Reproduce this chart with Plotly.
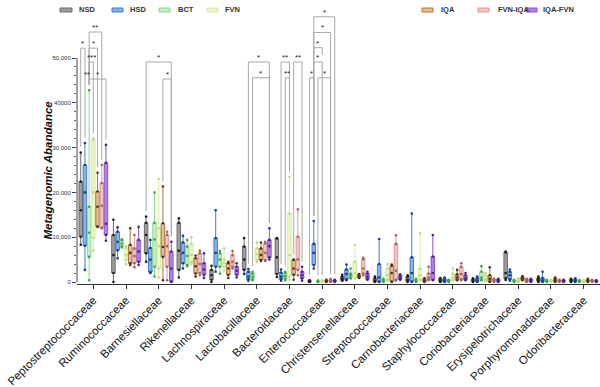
import plotly.graph_objects as go

categories = ["Peptostreptococcaceae", "Ruminococcaceae", "Barnesiellaceae", "Rikenellaceae",
              "Lachnospiraceae", "Lactobacillaceae", "Bacteroidaceae", "Enterococcaceae",
              "Christensenellaceae", "Streptococcaceae", "Carnobacteriaceae", "Staphylococcaceae",
              "Coriobacteriaceae", "Erysipelotrichaceae", "Porphyromonadaceae", "Odoribacteraceae"]
groups = ["NSD", "HSD", "BCT", "FVN", "IQA", "FVN-IQA", "IQA-FVN"]

# five-number summaries per family: [min, q1, median, q3, max]
NSD = [[8300, 10100, 16000, 22400, 28900], [0, 2000, 6000, 10500, 13900], [4500, 6400, 10500, 13200, 14600],
       [1000, 2700, 7000, 13200, 14200], [0, 500, 1500, 2700, 3600], [1800, 2700, 5000, 7900, 9800],
       [1100, 1800, 5500, 9700, 9800], [0, 50, 150, 300, 400], [300, 400, 700, 1200, 1600],
       [0, 100, 300, 900, 1200], [0, 200, 500, 1200, 1500], [0, 100, 300, 700, 900],
       [0, 100, 300, 600, 800], [450, 800, 2000, 6600, 6800], [0, 200, 500, 900, 1200],
       [0, 100, 300, 600, 700]]
HSD = [[2700, 8100, 20000, 26100, 31000], [5300, 7100, 9000, 11200, 12200], [2000, 2200, 5000, 7600, 9400],
       [3000, 4200, 6500, 8800, 10300], [2300, 3400, 6500, 9800, 16000], [300, 600, 1200, 2300, 2900],
       [300, 600, 1200, 2100, 2800], [3000, 3800, 6500, 8500, 13600], [400, 600, 1800, 2800, 3900],
       [0, 100, 1000, 4000, 9600], [0, 100, 2000, 5500, 15300], [0, 100, 300, 700, 1000],
       [0, 100, 400, 900, 1200], [300, 600, 1500, 2300, 2800], [0, 100, 400, 900, 2300],
       [0, 100, 300, 600, 800]]
BCT = [[400, 5600, 11000, 16800, 42800], [7700, 7900, 8600, 9400, 9500], [1200, 3400, 9500, 13200, 20000],
       [3500, 3800, 5800, 7900, 9400], [1900, 3400, 5000, 6400, 6900], [400, 600, 1200, 1900, 2300],
       [400, 700, 1300, 2000, 2300], [0, 50, 100, 200, 300], [800, 1000, 1500, 1900, 3000],
       [0, 100, 200, 500, 700], [0, 100, 200, 500, 700], [0, 50, 200, 400, 500],
       [400, 500, 1000, 2300, 3500], [0, 100, 200, 400, 500], [0, 100, 200, 400, 500],
       [0, 100, 200, 300, 400]]
FVN = [[7000, 9800, 20000, 31700, 32000], [4000, 4900, 6000, 7600, 8000], [1000, 3000, 8000, 12000, 23000],
       [4000, 4500, 6000, 8500, 10000], [2500, 3400, 4200, 5000, 7500], [4500, 4900, 6200, 7500, 8800],
       [500, 1200, 6000, 15300, 23500], [0, 50, 150, 300, 400], [800, 900, 2000, 4500, 8300],
       [300, 500, 1500, 3000, 4000], [400, 500, 1500, 3000, 10900], [400, 500, 1000, 1800, 3000],
       [200, 300, 700, 1500, 2000], [0, 100, 300, 600, 800], [0, 100, 200, 300, 400],
       [0, 100, 200, 300, 400]]
IQA = [[12300, 12400, 16800, 20200, 24400], [3800, 4200, 6500, 8300, 12000], [400, 5600, 7800, 13100, 21300],
       [1200, 1900, 3500, 5300, 5900], [900, 1600, 3000, 4200, 4500], [4700, 4900, 6000, 7500, 8800],
       [500, 1600, 3000, 4900, 5000], [0, 100, 200, 300, 500], [900, 1000, 1200, 1700, 1800],
       [0, 100, 2000, 3600, 3900], [0, 100, 300, 600, 900], [400, 500, 1000, 1700, 2700],
       [0, 100, 700, 1500, 3300], [400, 500, 800, 1100, 1300], [0, 100, 400, 800, 1000],
       [0, 100, 300, 500, 700]]
FVN_IQA = [[12000, 12100, 17000, 22100, 26100], [3300, 4200, 5800, 7500, 10500], [400, 3400, 8000, 10500, 11200],
           [1500, 2000, 4000, 6400, 7000], [3000, 3400, 4500, 6000, 6900], [4700, 4900, 6500, 8600, 9000],
           [1500, 2700, 5000, 10100, 16200], [0, 100, 300, 500, 700], [1500, 1900, 3000, 5100, 5400],
           [300, 500, 2500, 8500, 10400], [400, 600, 1000, 1900, 3400], [400, 600, 1800, 3400, 4200],
           [0, 100, 300, 600, 700], [0, 100, 300, 600, 700], [0, 100, 200, 400, 500],
           [0, 100, 200, 400, 500]]
IQA_FVN = [[9200, 10500, 13000, 26600, 30600], [3800, 4500, 6800, 9400, 12300], [0, 100, 3000, 6800, 9000],
           [900, 1600, 2800, 4200, 6400], [1000, 1600, 2500, 3400, 4200], [5000, 5500, 8000, 9400, 12000],
           [300, 800, 1500, 2300, 3400], [0, 100, 200, 400, 500], [500, 600, 1200, 1900, 2300],
           [500, 600, 1000, 1500, 1700], [400, 500, 2000, 5700, 10500], [400, 500, 900, 1500, 2000],
           [0, 100, 300, 600, 700], [0, 100, 300, 600, 700], [0, 100, 200, 400, 500],
           [0, 100, 200, 300, 400]]
series = [NSD, HSD, BCT, FVN, IQA, FVN_IQA, IQA_FVN]

y_tick_vals = [0, 10000, 20000, 30000, 40000, 50000]
y_tick_text = ["0", "10,000", "20,000", "30,000", "40000", "50,000"]
y_minor_vals = list(range(0, 50001, 2000))

# significance brackets: (family index, group a, group b, bar height, label, draw bar)
brackets = [
    (0, 2, 5, 55800, "**", True),
    (0, 0, 1, 52200, "*", True),
    (0, 2, 4, 52200, "*", True),
    (0, 2, 3, 49100, "***", True),
    (0, 1, 2, 45300, "**", False),
    (0, 2, 6, 45300, "*", True),
    (2, 0, 6, 49100, "*", True),
    (2, 4, 6, 45300, "*", True),
    (5, 1, 6, 49100, "*", True),
    (5, 2, 6, 45600, "*", True),
    (6, 1, 3, 49100, "**", True),
    (6, 4, 6, 49100, "**", True),
    (6, 2, 3, 45600, "**", True),
    (7, 0, 1, 45600, "*", True),
    (7, 2, 5, 45600, "*", True),
    (7, 1, 3, 49100, "*", True),
    (7, 1, 3, 52300, "*", "short"),
    (7, 1, 5, 55700, "*", True),
    (7, 1, 6, 59200, "*", True),
]

fills = ["rgba(125,125,125,0.75)", "rgba(95,155,225,0.75)", "rgba(150,230,155,0.6)",
         "rgba(228,243,175,0.7)", "rgba(220,170,115,0.75)", "rgba(238,175,170,0.75)",
         "rgba(165,105,235,0.85)"]
edges = ["#6a6a6a", "#3f7cc8", "#8cd690", "#d8e9a0", "#a8753f", "#dc9a92", "#8a52d8"]
dots = ["#1e1e1e", "#1e3c8c", "#3fa54a", "#c5d88a", "#4e3216", "#a0645c", "#47277a"]

FONT = "Liberation Sans, Arial, sans-serif"
W, H = 600, 387
ML, MR, MT, MB = 77, 0, 5, 103
PW, PH = W - ML - MR, H - MT - MB

def px(x):
    return (x - ML) / PW

def py(y):
    return (H - MB - y) / PH

fig = go.Figure()
for gi, (name, data) in enumerate(zip(groups, series)):
    fig.add_trace(go.Box(
        x=categories,
        lowerfence=[r[0] for r in data],
        q1=[r[1] for r in data],
        median=[r[2] for r in data],
        q3=[r[3] for r in data],
        upperfence=[r[4] for r in data],
        y=[list(r) for r in data],
        boxpoints="all", jitter=0, pointpos=0,
        fillcolor=fills[gi], line=dict(color=edges[gi], width=1),
        marker=dict(color=dots[gi], size=2.6),
        whiskerwidth=0, name=name, showlegend=False, hoverinfo="skip",
    ))

BOXGAP = 0.1
slot = (1 - BOXGAP) / len(groups)

def gx(cat, g):
    return cat + (g - (len(groups) - 1) / 2) * slot

shapes = []
annos = []
bcol = "#a8a8a8"
for cat, ga, gb, yb, lab, bar in brackets:
    xa, xb = gx(cat, ga), gx(cat, gb)
    if bar:
        shapes.append(dict(type="line", xref="x", yref="y", x0=xa, x1=xb, y0=yb, y1=yb,
                           line=dict(color=bcol, width=1)))
        for g, xx in ((ga, xa), (gb, xb)):
            bottom = yb - 1600 if bar == "short" else series[g][cat][4] + 1200
            shapes.append(dict(type="line", xref="x", yref="y", x0=xx, x1=xx, y0=yb, y1=bottom,
                               line=dict(color=bcol, width=1)))
    annos.append(dict(x=(xa + xb) / 2, y=yb, xref="x", yref="y", text=lab, showarrow=False,
                      yanchor="bottom", yshift=-2, font=dict(family=FONT, size=8, color="#222")))

# y axis line from 0 to 50,000
shapes.append(dict(type="line", xref="paper", yref="y", x0=0, x1=0, y0=0, y1=50000,
                   line=dict(color="#444", width=1)))

# legend
legend_items = [(60, 72, 77), (112, 123, 128), (159, 170, 176), (207, 218, 223),
                (422, 433, 439), (478, 489, 496), (526, 537, 541)]
for gi, (s0, s1, tx) in enumerate(legend_items):
    shapes.append(dict(type="rect", xref="paper", yref="paper", x0=px(s0), x1=px(s1),
                       y0=py(12), y1=py(8), fillcolor=fills[gi], line=dict(color=edges[gi], width=1)))
    annos.append(dict(x=px(tx), y=py(10), xref="paper", yref="paper", text="<b>%s</b>" % groups[gi],
                      showarrow=False, xanchor="left", yanchor="middle",
                      font=dict(family=FONT, size=7.5, color="#333")))

annos.append(dict(x=px(47.5), y=25000, xref="paper", yref="y", text="<b><i>Metagenomic Abandance</i></b>",
                  showarrow=False, textangle=-90, xanchor="center", yanchor="middle",
                  font=dict(family=FONT, size=11.5, color="#111")))

fig.update_layout(
    width=W, height=H, autosize=False,
    margin=dict(l=ML, r=MR, t=MT, b=MB, autoexpand=False),
    paper_bgcolor="white", plot_bgcolor="white",
    boxmode="group", boxgap=BOXGAP, boxgroupgap=0.17,
    shapes=shapes, annotations=annos,
    font=dict(family=FONT),
    xaxis=dict(type="category", range=[-0.5, 15.5], showline=True, linecolor="#333", linewidth=1,
               ticks="outside", ticklen=4, tickcolor="#333", tickangle=-45, showgrid=False,
               automargin=False, zeroline=False, tickfont=dict(family=FONT, size=11.5, color="#111")),
    yaxis=dict(range=[-447, 61830], showline=False, showgrid=False, zeroline=False, automargin=False,
               tickmode="array", tickvals=y_tick_vals, ticktext=y_tick_text,
               ticks="outside", ticklen=4, tickcolor="#444",
               tickfont=dict(family=FONT, size=6, color="#333"),
               minor=dict(tickmode="array", tickvals=y_minor_vals, ticks="outside", ticklen=2,
                          tickcolor="#666")),
)

fig.write_html("out.html", config={"displayModeBar": False},
               post_script="document.body.style.margin='0';document.body.style.padding='0';")
